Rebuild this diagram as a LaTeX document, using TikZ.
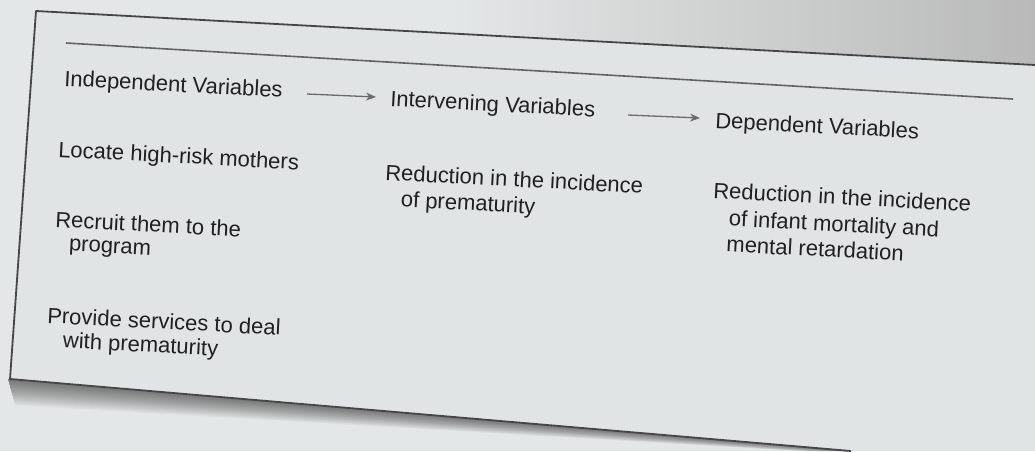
\documentclass[tikz,border=0pt]{standalone}
\usepackage{fontspec}
\setmainfont{Liberation Sans}
\usetikzlibrary{arrows.meta}
\definecolor{paper}{RGB}{228,231,231}
\definecolor{boxpaper}{RGB}{225,228,229}
\definecolor{ink}{RGB}{32,32,34}
\definecolor{rule}{RGB}{70,70,72}
\newcommand{\stack}[1]{\begin{tabular}[t]{@{}l@{}}#1\end{tabular}}
\tikzset{
  lbl/.style={anchor=base west, inner sep=0pt, outer sep=0pt, text=ink,
    font=\fontsize{22}{26}\selectfont, rotate=-3},
  flow/.style={draw=rule!80, line width=1.3pt, -{Stealth[length=10pt,width=8pt]}},
  edge/.style={draw=rule, line width=1.8pt},
}
\begin{document}
\begin{tikzpicture}[x=1pt,y=-1pt]
\useasboundingbox (0,0) rectangle (1035,451);
\fill[paper] (0,0) rectangle (1035,451);
% darker paper above the box at top right
\shade[left color=paper, right color=gray!55] (450,0) -- (1035,0) -- (1035,65) -- (450,36) -- cycle;
% soft shadow below the box
\foreach \o in {1,...,24}{
  \fill[black, opacity=0.022] (8,379) -- (851,451) -- (851-\o*2.2,451) -- (8+\o*0.3,379+\o*1.1) -- cycle;
}
% box
\fill[boxpaper] (36,11) -- (1035,65) -- (1035,451) -- (851,451) -- (10,379) -- cycle;
\coordinate (tl) at (36,11);
\coordinate (tr) at (1035,65);
\coordinate (bl) at (10,379);
\coordinate (br) at (851,451);
\draw[edge, line join=round] (tr) -- (tl) -- (bl) -- (br);
\coordinate (r1) at (66,43);
\coordinate (r2) at (1013,99);
\draw[draw=rule!85, line width=1.6pt] (r1) -- (r2);

% headings
\node[lbl] (ind) at (64,86) {Independent Variables};
\node[lbl] (int) at (390,106) {Intervening Variables};
\node[lbl] (dep) at (715,128) {Dependent Variables};
\coordinate (a1s) at (307,94);
\coordinate (a1e) at (376,97);
\coordinate (a2s) at (628,115);
\coordinate (a2e) at (700,118);
\draw[flow] (a1s) -- (a1e);
\draw[flow] (a2s) -- (a2e);

% independent column
\node[lbl] (loc) at (58,157) {Locate high-risk mothers};
\node[lbl] (rec) at (55,227) {\stack{Recruit them to the\\[-3pt]\hspace*{15pt}program}};
\node[lbl] (pro) at (47,323) {\stack{Provide services to deal\\[-2pt]\hspace*{17pt}with prematurity}};

% intervening column
\node[lbl] (red1) at (385,180) {\stack{Reduction in the incidence\\\hspace*{17pt}of prematurity}};

% dependent column
\node[lbl] (red2) at (713,198) {\stack{Reduction in the incidence\\[1pt]\hspace*{17pt}of infant mortality and\\\hspace*{16pt}mental retardation}};
\end{tikzpicture}
\end{document}
